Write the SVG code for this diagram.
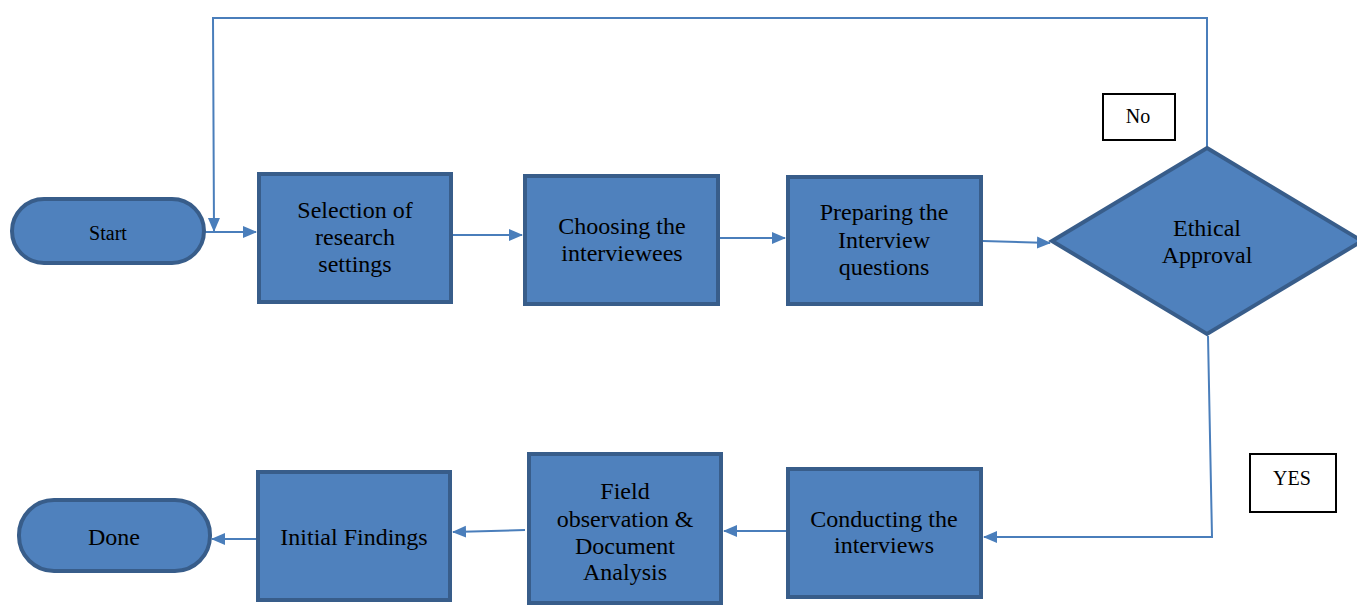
<svg xmlns="http://www.w3.org/2000/svg" width="1357" height="605" viewBox="0 0 1357 605">
<style>
.n{fill:#4F81BD;stroke:#385D8A;stroke-width:4}
.lbl{fill:#fff;stroke:#000;stroke-width:2}
.t{font-family:"Liberation Serif","Times New Roman",serif;font-size:24px;fill:#000;text-anchor:middle}
.s{font-size:20px}
.c{fill:none;stroke:#4A7EBB;stroke-width:2}
</style>
<defs>
<marker id="ah" markerUnits="userSpaceOnUse" markerWidth="14" markerHeight="14" viewBox="0 0 14 14" refX="13" refY="7" orient="auto">
<path d="M0,1 L14,7 L0,13 Z" fill="#4A7EBB"/>
</marker>
</defs>
<rect width="1357" height="605" fill="#fff"/>
<g id="connectors">
<path class="c" d="M205,232 L256,232" marker-end="url(#ah)"/>
<path class="c" d="M453,235 L522,235" marker-end="url(#ah)"/>
<path class="c" d="M720,238 L785,238" marker-end="url(#ah)"/>
<path class="c" d="M983,241 L1050,243" marker-end="url(#ah)"/>
<path class="c" d="M1207,148 L1207,18 L213,18 L214,231" marker-end="url(#ah)"/>
<path class="c" d="M1208,336 L1212,537 L984,537" marker-end="url(#ah)"/>
<path class="c" d="M786,531 L724,531" marker-end="url(#ah)"/>
<path class="c" d="M525,530 L453,532" marker-end="url(#ah)"/>
<path class="c" d="M256,539 L212,539" marker-end="url(#ah)"/>
</g>
<g id="start"><rect class="n" x="12" y="199" width="192" height="64" rx="32"/><text class="t s" x="108" y="240">Start</text></g>
<g id="selection"><rect class="n" x="259" y="174" width="192" height="128"/><text class="t" x="355" y="218">Selection of</text><text class="t" x="355" y="245">research</text><text class="t" x="355" y="272">settings</text></g>
<g id="choosing"><rect class="n" x="525" y="176" width="193" height="128"/><text class="t" x="622" y="234">Choosing the</text><text class="t" x="622" y="261">interviewees</text></g>
<g id="preparing"><rect class="n" x="788" y="177" width="193" height="127"/><text class="t" x="884" y="220">Preparing the</text><text class="t" x="884" y="248">Interview</text><text class="t" x="884" y="275">questions</text></g>
<g id="ethical"><polygon class="n" points="1207,148 1362,241 1207,334 1052,241"/><text class="t" x="1207" y="236">Ethical</text><text class="t" x="1207" y="263">Approval</text></g>
<g id="no"><rect class="lbl" x="1103" y="94" width="72" height="46"/><text class="t s" x="1138" y="123">No</text></g>
<g id="yes"><rect class="lbl" x="1250" y="454" width="86" height="58"/><text class="t s" x="1292" y="485">YES</text></g>
<g id="conducting"><rect class="n" x="788" y="469" width="193" height="128"/><text class="t" x="884" y="527">Conducting the</text><text class="t" x="884" y="553">interviews</text></g>
<g id="field"><rect class="n" x="529" y="454" width="192" height="149"/><text class="t" x="625" y="499">Field</text><text class="t" x="625" y="527">observation &amp;</text><text class="t" x="625" y="554">Document</text><text class="t" x="625" y="580">Analysis</text></g>
<g id="initial"><rect class="n" x="258" y="472" width="192" height="128"/><text class="t" x="354" y="545">Initial Findings</text></g>
<g id="done"><rect class="n" x="19" y="500" width="191" height="71" rx="35"/><text class="t" x="114" y="545">Done</text></g>
</svg>
